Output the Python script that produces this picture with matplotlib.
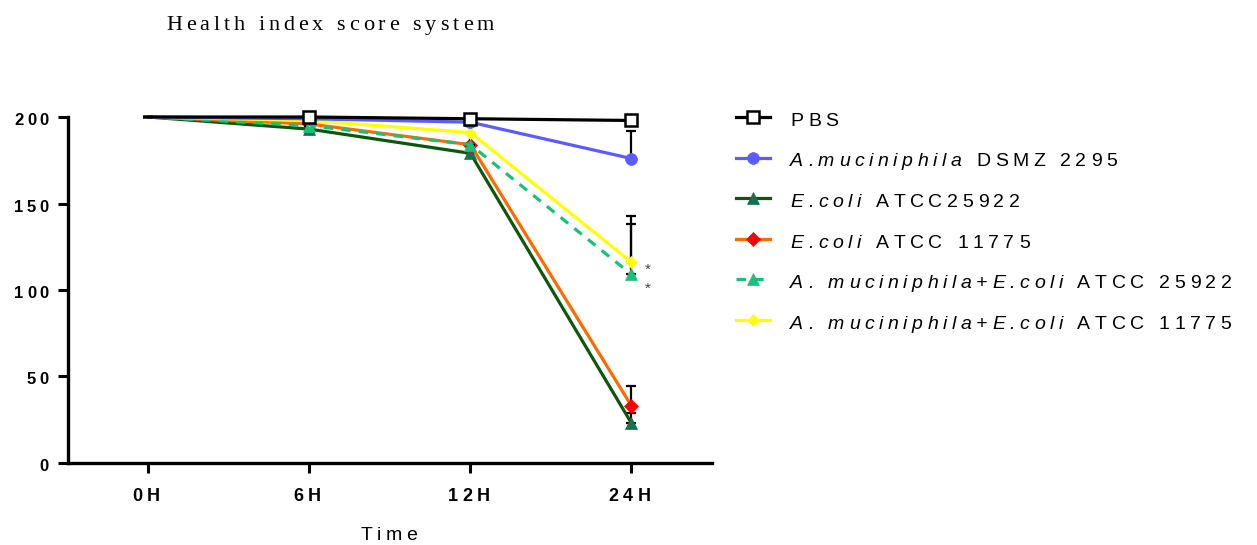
import numpy as np
import matplotlib
matplotlib.use('Agg')
import matplotlib.pyplot as plt
from matplotlib.font_manager import FontProperties, findfont
from matplotlib.ft2font import FT2Font

plt.rcParams['font.family'] = ['Liberation Sans', 'DejaVu Sans']

# data
times = ['0H', '6H', '12H', '24H']
yticks = [0, 50, 100, 150, 200]
pbs = [200, 200, 199, 198]
am = [200, 199, 197, 176]
ec25922 = [200, 193, 179, 23]
ec11775 = [200, 196, 184, 33]
am_ec25922 = [200, 195, 184, 109]
am_ec11775 = [200, 198, 191, 116]

# upper error bars (one sided)
pbs_err = [0, 0, 0, 0]
am_err = [0, 0, 0, 16]
ec25922_err = [0, 0, 0, 6]
ec11775_err = [0, 0, 0, 11.5]
am_ec25922_err = [0, 0, 12, 34]
am_ec11775_err = [0, 0, 4, 22]

# legend labels: (text, style) pieces
labels = [
    [('PBS', 'normal')],
    [('A.muciniphila', 'italic'), (' DSMZ 2295', 'normal')],
    [('E.coli', 'italic'), (' ATCC25922', 'normal')],
    [('E.coli', 'italic'), (' ATCC 11775', 'normal')],
    [('A. muciniphila+E.coli', 'italic'), (' ATCC 25922', 'normal')],
    [('A. muciniphila+E.coli', 'italic'), (' ATCC 11775', 'normal')],
]

W, H = 1257, 545
fig = plt.figure(figsize=(W / 100, H / 100), dpi=100)
ax = fig.add_axes([0.054, 0.1505, 0.5124, 0.6348])


def spaced_text(x, y, parts, size, track, ha='left', family='Liberation Sans',
                weight='normal', color='black'):
    # draw text with extra letter spacing; x, y in pixels, y is the baseline
    chars = []
    for s, st in parts:
        prop = FontProperties(family=family, style=st, weight=weight, size=size)
        font = FT2Font(findfont(prop))
        font.set_size(size, 100)
        for c in s:
            adv = font.load_char(ord(c)).linearHoriAdvance / 65536
            chars.append((c, prop, adv))
    total = sum(a for _, _, a in chars) + track * (len(chars) - 1)
    if ha == 'center':
        x -= total / 2
    elif ha == 'right':
        x -= total
    for c, prop, adv in chars:
        if c != ' ':
            fig.text(x / W, y / H, c, fontproperties=prop, color=color,
                     ha='left', va='baseline')
        x += adv + track


series = [
    (pbs, pbs_err, 'black', '-', 's', 'white', 'black', 9, 6),
    (am, am_err, '#5B5BFF', '-', 'o', '#5B5BFF', '#5B5BFF', 8.5, 5),
    (ec25922, ec25922_err, '#0B570B', '-', '^', '#17704F', '#17704F', 9, 1),
    (ec11775, ec11775_err, '#FF6A00', '-', 'D', '#FF0000', '#FF0000', 7, 2),
    (am_ec25922, am_ec25922_err, '#19C07A', (0, (3, 2.5)), '^', '#19C07A', '#19C07A', 9, 3),
    (am_ec11775, am_ec11775_err, '#FFFF00', '-', 'D', '#FFFF00', '#FFFF00', 6, 4),
]

x = np.arange(len(times))
handles = []
for vals, err, col, ls, mk, mfc, mec, ms, z in series:
    ax.errorbar(x, vals, yerr=[np.zeros(len(err)), err], fmt='none', ecolor='black',
                elinewidth=1.6, capsize=3.8, capthick=1.6, zorder=z - 0.5, clip_on=False)
    h, = ax.plot(x, vals, color=col, linestyle=ls, linewidth=2.3, marker=mk, markevery=[1, 2, 3],
                 markerfacecolor=mfc, markeredgecolor=mec,
                 markeredgewidth=1.8 if mk == 's' else 0.5,
                 markersize=ms, zorder=z, clip_on=False)
    handles.append(h)

ax.set_xlim(-0.5, 3.5)
ax.set_ylim(0, 200)
ax.set_xticks(x)
ax.set_yticks(yticks)
ax.set_xticklabels([])
ax.set_yticklabels([])
ax.tick_params(width=2.2, length=7)
for s in ['top', 'right']:
    ax.spines[s].set_visible(False)
for s in ['left', 'bottom']:
    ax.spines[s].set_linewidth(2.4)

# tick labels with letter spacing, placed through the axes transform
for xi, lab in zip(x, times):
    px, py = ax.transData.transform((xi, 0))
    spaced_text(px - 2, py - 38, [(lab, 'normal')], 13, 4.5, ha='center', weight='bold')
for yi in yticks:
    px, py = ax.transData.transform((-0.5, yi))
    spaced_text(px - 19, py - 8, [(str(yi), 'normal')], 12, 3.5, ha='right', weight='bold')

# significance marks
for yy in [113, 102]:
    px, py = ax.transData.transform((3, yy))
    spaced_text(px + 16, py - 6, [('*', 'normal')], 11, 0, ha='center', color='#444444')

# axis title and chart title
spaced_text(389, H - 540, [('Time', 'normal')], 14, 4.2, ha='center')
spaced_text(166, H - 30, [('Health index score system', 'normal')], 16, 3.9,
            family='Liberation Serif')

# legend: handles from the library, text drawn with spacing next to them
leg = ax.legend(handles=handles, labels=[''] * len(handles), loc='upper left',
                bbox_to_anchor=(1.01, 1.07), frameon=False, fontsize=14,
                labelspacing=1.18, handlelength=1.75, handletextpad=1.05)
fig.canvas.draw()
renderer = fig.canvas.get_renderer()
for t, parts in zip(leg.get_texts(), labels):
    bb = t.get_window_extent(renderer)
    spaced_text(bb.x0, bb.y0 - 2, parts, 14, 4.6)

fig.savefig('out.png', dpi=100)
